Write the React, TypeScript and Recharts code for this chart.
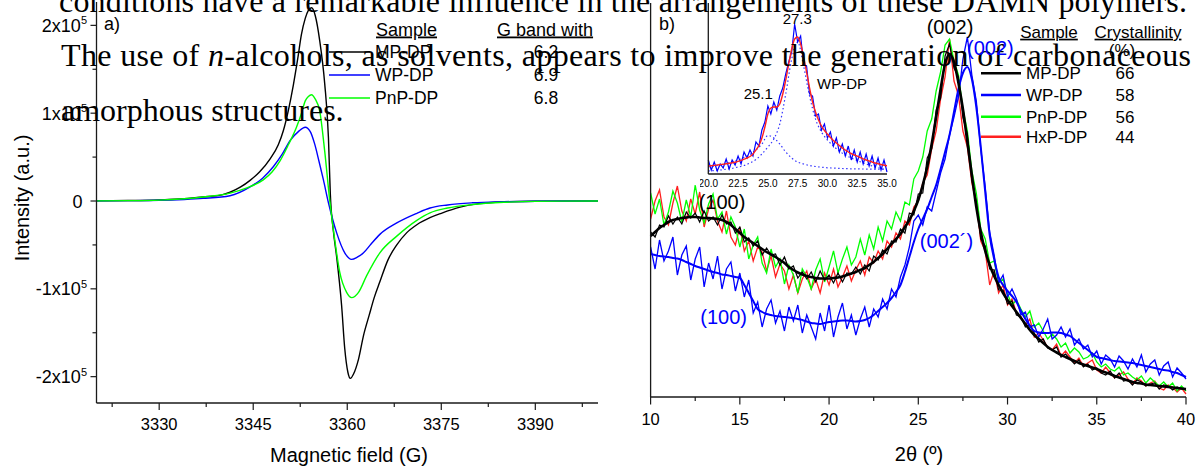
import { Line, LineChart, XAxis, YAxis } from 'recharts';

const SANS = "'Liberation Sans', Arial, Helvetica, sans-serif";
const SERIF = "'Liberation Serif', 'Times New Roman', serif";
const AXIS = '#1a1a1a';

// ---- a) EPR spectra (intensity in units of 1x10^5) ----
const mpField = [
  3320, 3325, 3330, 3334, 3337, 3340, 3341.3, 3343, 3344.5, 3346,
  3347.7, 3349, 3349.8, 3350.6, 3351.4, 3352.1, 3352.7, 3353.3, 3353.8, 3354.3,
  3354.9, 3355.6, 3356.4, 3357.0, 3357.3, 3357.8, 3358.3, 3359.1, 3359.6, 3360.1,
  3360.5, 3361, 3361.8, 3362.6, 3363.5, 3364.3, 3365.2, 3366.5, 3367.9, 3369.5,
  3371.1, 3373.2, 3375, 3378, 3381, 3385, 3390, 3400,
];
const mpEpr = [
  0.002, 0.005, 0.012, 0.025, 0.045, 0.07, 0.1, 0.16, 0.235, 0.33,
  0.48, 0.64, 0.8, 1.03, 1.32, 1.62, 1.9, 2.08, 2.17, 2.2,
  2.11, 1.83, 1.34, 0.72, 0.08, -0.35, -0.63, -1.19, -1.68, -1.95,
  -2.02, -1.97, -1.8, -1.53, -1.3, -1.1, -0.92, -0.67, -0.5, -0.36,
  -0.27, -0.19, -0.14, -0.07, -0.03, -0.01, -0.003, 0,
];
const pnpField = [
  3320, 3325, 3330, 3334, 3337, 3341.3, 3344, 3346.6, 3348, 3349.3,
  3350.6, 3351.9, 3352.7, 3353.3, 3353.8, 3354.3, 3354.9, 3355.6, 3356.4, 3357.2,
  3358.0, 3358.8, 3359.9, 3360.7, 3361.8, 3363.1, 3365.2, 3367.9, 3371.1, 3373.2,
  3376, 3380, 3385, 3390, 3400,
];
const pnpEpr = [
  0.002, 0.004, 0.01, 0.025, 0.045, 0.09, 0.15, 0.24, 0.33, 0.46,
  0.64, 0.84, 1.0, 1.14, 1.19, 1.21, 1.16, 1.03, 0.57, 0.01,
  -0.44, -0.81, -1.04, -1.1, -1.04, -0.85, -0.59, -0.4, -0.22, -0.135,
  -0.08, -0.04, -0.015, -0.004, 0,
];
const wpField = [
  3320, 3325, 3330, 3334, 3337, 3341.3, 3344.5, 3346.5, 3348.2, 3349.6,
  3350.9, 3352.2, 3353.3, 3354.1, 3354.8, 3355.5, 3356.2, 3357.0, 3358.3, 3359.6,
  3360.7, 3361.6, 3362.6, 3363.8, 3365.2, 3367.9, 3371.1, 3373.2, 3376, 3380,
  3385, 3390, 3400,
];
const wpEpr = [
  0.002, 0.004, 0.008, 0.018, 0.03, 0.06, 0.16, 0.26, 0.39, 0.53,
  0.69, 0.79, 0.84, 0.79, 0.65, 0.45, 0.24, -0.02, -0.36, -0.59,
  -0.665, -0.64, -0.59, -0.49, -0.38, -0.25, -0.14, -0.08, -0.045, -0.02,
  -0.008, -0.002, 0,
];
const eprYTicks = [-2, -1.5, -1, -0.5, 0, 0.5, 1, 1.5, 2];
const eprXTicks = [3322.5, 3330, 3337.5, 3345, 3352.5, 3360, 3367.5, 3375, 3382.5, 3390, 3397.5];
const eprSamples = ['MP-DP', 'WP-DP', 'PnP-DP'];
const eprBandWidth = ['6.2', '6.9', '6.8'];
const eprColors = ['#000000', '#0000ff', '#00ff00'];

// ---- b) XRD patterns (arbitrary intensity) ----
const xrdAngle = [
  10, 10.25, 10.5, 10.75, 11, 11.25, 11.5, 11.75, 12, 12.25,
  12.5, 12.75, 13, 13.25, 13.5, 13.75, 14, 14.25, 14.5, 14.75,
  15, 15.25, 15.5, 15.75, 16, 16.25, 16.5, 16.75, 17, 17.25,
  17.5, 17.75, 18, 18.25, 18.5, 18.75, 19, 19.25, 19.5, 19.75,
  20, 20.25, 20.5, 20.75, 21, 21.25, 21.5, 21.75, 22, 22.25,
  22.5, 22.75, 23, 23.25, 23.5, 23.75, 24, 24.25, 24.5, 24.75,
  25, 25.25, 25.5, 25.75, 26, 26.25, 26.5, 26.75, 27, 27.25,
  27.5, 27.75, 28, 28.25, 28.5, 28.75, 29, 29.25, 29.5, 29.75,
  30, 30.25, 30.5, 30.75, 31, 31.25, 31.5, 31.75, 32, 32.25,
  32.5, 32.75, 33, 33.25, 33.5, 33.75, 34, 34.25, 34.5, 34.75,
  35, 35.25, 35.5, 35.75, 36, 36.25, 36.5, 36.75, 37, 37.25,
  37.5, 37.75, 38, 38.25, 38.5, 38.75, 39, 39.25, 39.5, 39.75,
  40,
];
const xrdMpFit = [
  161, 165, 169, 172, 175, 177, 178, 179, 179.5, 180,
  180, 179.5, 179, 179, 178.5, 178, 177, 175, 172, 168,
  164, 160, 157, 154, 151, 148, 145, 142.5, 140, 137,
  134, 130, 127, 124.5, 122.5, 121, 120, 119, 118.5, 118.5,
  118.5, 119, 119.5, 120.5, 122, 123.5, 125, 127, 129, 132,
  135, 139, 143, 148, 153, 158, 163, 170, 177, 186,
  197, 212, 230, 253, 280, 308, 333, 343, 335, 314,
  288, 255, 222, 190, 165, 146, 132, 121, 112, 104,
  97, 91, 85, 79, 73, 67, 62, 58, 54, 50,
  47, 44.5, 42, 40, 38, 36, 34, 32.5, 31, 29.5,
  28, 26, 24.5, 23, 21, 19.5, 18, 16.5, 15, 14,
  13.5, 12.5, 12, 11.5, 11, 10.5, 10, 9.5, 9, 8.5,
  8,
];
const xrdMp = [
  165, 160, 172, 170, 181, 173, 180, 173, 185, 179,
  184, 175, 186, 176, 180, 172, 182, 173, 175, 164,
  170, 155, 159, 151, 156, 142, 149, 142, 143, 132,
  140, 128, 131, 119, 125, 118, 125, 115, 126, 117,
  122, 114, 124, 115, 124, 123, 130, 123, 132, 126,
  141, 137, 147, 143, 156, 155, 168, 164, 184, 182,
  203, 204, 239, 248, 287, 299, 341, 353, 329, 320,
  279, 263, 217, 196, 158, 151, 128, 127, 107, 107,
  93, 96, 82, 80, 70, 72, 64, 55, 58, 49,
  47, 50, 40, 43, 38, 33, 37, 30, 33, 27,
  29, 24, 22, 26, 19, 24, 16, 17, 12, 17,
  15, 11, 13, 14, 8, 12, 11, 7, 10, 8,
  7,
];
const xrdWpFit = [
  143, 142, 141, 140.5, 140, 139, 138.5, 137, 135, 133,
  131, 129.5, 128, 126.5, 125, 124, 122.5, 122, 121, 120,
  119, 112, 104, 96, 88, 85, 83, 82, 81, 80.5,
  80, 79.5, 79, 78, 77, 75.5, 74, 73.5, 73, 74,
  75, 75.5, 76, 76.5, 76.5, 76, 75.5, 76, 77, 79,
  82, 86, 90, 94, 99, 105, 112, 125, 140, 155,
  168, 178, 188, 200, 212, 228, 245, 262, 285, 308,
  324, 330, 318, 290, 250, 205, 162, 138, 120, 112,
  106, 101, 95, 86, 78, 71, 66, 64.5, 64, 64,
  64.5, 64.5, 64, 62.5, 61, 57.5, 54, 50.5, 47, 43.5,
  40, 39, 38, 37, 36, 35.5, 35, 34.5, 34, 33,
  32, 31, 30, 29, 28, 27, 26.5, 25, 24, 22,
  20,
];
const xrdWp = [
  150, 128, 157, 136, 146, 160, 122, 142, 151, 117,
  138, 150, 110, 134, 118, 141, 108, 128, 135, 106,
  124, 100, 117, 84, 95, 70, 88, 97, 74, 86,
  66, 90, 76, 92, 64, 82, 70, 58, 84, 66,
  92, 60, 80, 94, 68, 82, 62, 78, 90, 70,
  88, 80, 98, 88, 108, 100, 120, 132, 150, 176,
  182, 172, 190, 186, 205, 224, 238, 262, 280, 300,
  338, 360, 322, 296, 248, 210, 165, 142, 114, 122,
  100, 108, 98, 82, 85, 70, 72, 60, 68, 78,
  58, 62, 70, 60, 68, 52, 58, 48, 52, 40,
  46, 33, 42, 38, 30, 41, 36, 28, 38, 30,
  42, 25, 33, 37, 22, 31, 35, 20, 29, 24,
  18,
];
const xrdPnp = [
  204, 183, 198, 172, 185, 206, 194, 175, 197, 180,
  212, 187, 174, 193, 203, 178, 185, 163, 180, 170,
  150, 168, 138, 152, 160, 134, 124, 148, 130, 138,
  113, 132, 122, 104, 128, 120, 108, 127, 138, 115,
  130, 146, 124, 138, 150, 132, 140, 158, 142, 162,
  148, 170, 156, 176, 168, 185, 176, 195, 192, 218,
  226, 240, 266, 278, 306, 325, 352, 358, 336, 322,
  288, 266, 226, 204, 168, 158, 134, 136, 114, 118,
  103, 92, 97, 88, 80, 86, 70, 74, 66, 58,
  63, 58, 50, 54, 44, 49, 45, 38, 40, 44,
  35, 30, 33, 28, 26, 30, 22, 24, 20, 17,
  21, 14, 19, 15, 11, 15, 10, 14, 6, 11,
  6,
];
const xrdHxp = [
  178, 196, 207, 180, 172, 194, 211, 186, 176, 198,
  183, 205, 170, 188, 197, 176, 165, 186, 160, 152,
  170, 146, 156, 136, 150, 145, 126, 141, 120, 133,
  126, 108, 122, 104, 118, 126, 108, 118, 104, 124,
  112, 128, 110, 120, 131, 116, 127, 136, 122, 140,
  134, 146, 138, 156, 150, 164, 158, 176, 172, 190,
  196, 214, 222, 248, 266, 298, 320, 358, 316, 302,
  266, 250, 214, 194, 156, 146, 112, 126, 104, 112,
  92, 98, 84, 80, 72, 78, 60, 64, 57, 50,
  47, 53, 41, 46, 40, 34, 39, 31, 34, 37,
  27, 24, 30, 24, 19, 22, 25, 18, 13, 19,
  16, 11, 14, 16, 9, 7, 12, 10, 5, 9,
  3,
];
const xrdTicks = [10, 12.5, 15, 17.5, 20, 22.5, 25, 27.5, 30, 32.5, 35, 37.5, 40];
const xrdSamples = ['MP-DP', 'WP-DP', 'PnP-DP', 'HxP-DP'];
const xrdCrystallinity = ['66', '58', '56', '44'];
const xrdColors = ['#000000', '#0000ff', '#00ff00', '#ff2020'];

// inset: WP-DP (002) band deconvolution
const insetAngle = [
  20, 20.25, 20.5, 20.75, 21, 21.25, 21.5, 21.75, 22, 22.25,
  22.5, 22.75, 23, 23.25, 23.5, 23.75, 24, 24.25, 24.5, 24.75,
  25, 25.25, 25.5, 25.75, 26, 26.25, 26.5, 26.75, 27, 27.25,
  27.5, 27.75, 28, 28.25, 28.5, 28.75, 29, 29.25, 29.5, 29.75,
  30, 30.25, 30.5, 30.75, 31, 31.25, 31.5, 31.75, 32, 32.25,
  32.5, 32.75, 33, 33.25, 33.5, 33.75, 34, 34.25, 34.5, 34.75,
  35,
];
const insetFit = [
  8, 8.3, 8.6, 9, 9.4, 9.8, 10.2, 10.7, 11.2, 11.8,
  12.6, 13.6, 14.8, 16, 17.5, 20, 24, 28.5, 36, 47,
  60, 66, 67, 67, 70, 80, 94, 110, 125, 135,
  137, 130, 117, 102, 86, 72, 62, 54, 48, 43.5,
  40, 36.5, 33.5, 31, 28.5, 26, 24, 22, 20.5, 19,
  17.8, 16.5, 15.2, 14, 13, 12, 11, 10.2, 9.5, 8.8,
  8.3,
];
const insetWp = [
  14, 4, 12, 3, 10, 6, 15, 5, 14, 9,
  18, 10, 22, 16, 24, 18, 32, 28, 44, 52,
  68, 60, 72, 64, 78, 86, 100, 112, 122, 150,
  132, 138, 110, 108, 80, 78, 58, 60, 44, 50,
  36, 42, 28, 36, 22, 30, 18, 28, 14, 24,
  12, 22, 10, 20, 8, 18, 6, 16, 4, 14,
  2,
];
const insetPeakAngle = [
  20, 20.5, 21, 21.5, 22, 22.5, 23, 23.5, 24, 24.5,
  25, 25.5, 26, 26.5, 27, 27.5, 28, 28.5, 29, 29.5,
  30, 30.5, 31, 31.5, 32, 32.5, 33, 33.5, 34, 34.5,
  35,
];
const insetPeak1 = [
  7, 8, 9, 10.5, 12, 14, 16.5, 19.5, 24, 30,
  38.5, 36, 30, 22, 16, 12, 10, 8.5, 7.5, 6.8,
  6.2, 5.9, 5.6, 5.4, 5.2, 5.1, 5, 4.9, 4.8, 4.75,
  4.7,
];
const insetPeak2 = [
  3, 3.5, 4, 4.8, 5.7, 7, 8.5, 11, 14.5, 20,
  27, 35, 50, 80, 115, 132, 108, 78, 55, 42,
  34, 28, 23, 19, 16, 13.5, 11, 9, 7, 5.5,
  4,
];
const insetTicks = [20, 22.5, 25, 27.5, 30, 32.5, 35];

const toPoints = (xs: number[], ys: number[]) => xs.map((x, i) => ({ x, y: ys[i] }));

function EprYTick(props: any) {
  const { x, y, payload } = props;
  const v = payload.value as number;
  const major = Number.isInteger(v);
  return (
    <g>
      <line x1={x - (major ? 6 : 4)} x2={x} y1={y} y2={y} stroke={AXIS} strokeWidth={1.2} />
      {major && v === 0 && (
        <text x={x - 14} y={y + 6.5} textAnchor="end" fontSize={18} fontFamily={SANS} fill="#000">
          0
        </text>
      )}
      {major && v !== 0 && (
        <text x={x - 9.5} y={y + 6.5} textAnchor="end" fontSize={18} fontFamily={SANS} fill="#000">
          {`${v}x10`}
          <tspan fontSize={11} dy={-7.5}>
            5
          </tspan>
        </text>
      )}
    </g>
  );
}

function makeXTick(isMajor: (v: number) => boolean, size: number, long: number, short: number, gap: number, fmt?: (v: number) => string) {
  return function XTick(props: any) {
    const { x, y, payload } = props;
    const v = payload.value as number;
    const major = isMajor(v);
    return (
      <g>
        {long > 0 && <line x1={x} x2={x} y1={y} y2={y + (major ? long : short)} stroke={AXIS} strokeWidth={1.2} />}
        {major && (
          <text x={x} y={y + gap} textAnchor="middle" fontSize={size} fontFamily={SANS} fill="#000">
            {fmt ? fmt(v) : v}
          </text>
        )}
      </g>
    );
  };
}

const FieldTick = makeXTick((v) => (v - 3330) % 15 === 0, 16.5, 7, 4, 26.5);
const AngleTick = makeXTick((v) => v % 5 === 0, 16.5, 7.5, 4, 28);
const InsetTick = makeXTick(() => true, 10, 0, 0, 12.5, (v) => v.toFixed(1));

const axisLine = { stroke: AXIS, strokeWidth: 1.3 };

export default function App() {
  const mp = toPoints(mpField, mpEpr);
  const wp = toPoints(wpField, wpEpr);
  const pnp = toPoints(pnpField, pnpEpr);
  const eprSeries = [mp, wp, pnp];

  const xMp = toPoints(xrdAngle, xrdMp);
  const xMpFit = toPoints(xrdAngle, xrdMpFit);
  const xWp = toPoints(xrdAngle, xrdWp);
  const xWpFit = toPoints(xrdAngle, xrdWpFit);
  const xPnp = toPoints(xrdAngle, xrdPnp);
  const xHxp = toPoints(xrdAngle, xrdHxp);

  const iWp = toPoints(insetAngle, insetWp);
  const iFit = toPoints(insetAngle, insetFit);
  const iP1 = toPoints(insetPeakAngle, insetPeak1);
  const iP2 = toPoints(insetPeakAngle, insetPeak2);

  const eprRows = [52, 75, 98];
  const xrdRows = [73.3, 95, 116.7, 136.7];

  return (
    <div style={{ position: 'absolute', left: 0, top: 0, width: 1196, height: 466, background: '#fff', overflow: 'hidden' }}>
      {/* a) EPR */}
      <div style={{ position: 'absolute', left: 0, top: 0 }}>
        <LineChart width={620} height={466} margin={{ top: 2, right: 22, bottom: 0, left: 0 }}>
          <XAxis
            dataKey="x"
            type="number"
            domain={[3320, 3400]}
            ticks={eprXTicks}
            interval={0}
            height={63}
            tickSize={0}
            tickMargin={0}
            tickLine={false}
            axisLine={axisLine}
            tick={<FieldTick />}
          />
          <XAxis xAxisId="top" orientation="top" type="number" domain={[3320, 3400]} height={0} tick={false} tickLine={false} axisLine={axisLine} />
          <YAxis
            type="number"
            domain={[-2.3, 2.266]}
            ticks={eprYTicks}
            interval={0}
            width={96.5}
            tickSize={0}
            tickMargin={0}
            tickLine={false}
            axisLine={axisLine}
            tick={<EprYTick />}
          />
          <YAxis yAxisId="right" orientation="right" type="number" domain={[0, 1]} width={0} tick={false} tickLine={false} axisLine={axisLine} />
          {eprSeries.map((d, i) => (
            <Line
              key={eprSamples[i]}
              data={d}
              dataKey="y"
              type="monotone"
              stroke={eprColors[i]}
              strokeWidth={1.4}
              dot={false}
              activeDot={false}
              isAnimationActive={false}
            />
          ))}
        </LineChart>
      </div>

      {/* b) XRD */}
      <div style={{ position: 'absolute', left: 600, top: 0 }}>
        <LineChart width={596} height={466} margin={{ top: 3, right: 10, bottom: 0, left: 0 }}>
          <XAxis
            dataKey="x"
            type="number"
            domain={[10, 40]}
            ticks={xrdTicks}
            interval={0}
            height={69}
            tickSize={0}
            tickMargin={0}
            tickLine={false}
            axisLine={axisLine}
            tick={<AngleTick />}
          />
          <XAxis xAxisId="top" orientation="top" type="number" domain={[10, 40]} height={0} tick={false} tickLine={false} axisLine={axisLine} />
          <YAxis type="number" domain={[0, 394]} width={50.6} tick={false} tickLine={false} axisLine={axisLine} />
          <YAxis yAxisId="right" orientation="right" type="number" domain={[0, 1]} width={0} tick={false} tickLine={false} axisLine={{ stroke: '#444', strokeWidth: 1.6 }} />
          <Line data={xHxp} dataKey="y" type="linear" stroke={xrdColors[3]} strokeWidth={1.3} dot={false} activeDot={false} isAnimationActive={false} />
          <Line data={xPnp} dataKey="y" type="linear" stroke={xrdColors[2]} strokeWidth={1.3} dot={false} activeDot={false} isAnimationActive={false} />
          <Line data={xWp} dataKey="y" type="linear" stroke={xrdColors[1]} strokeWidth={1.3} dot={false} activeDot={false} isAnimationActive={false} />
          <Line data={xMp} dataKey="y" type="linear" stroke={xrdColors[0]} strokeWidth={1.2} dot={false} activeDot={false} isAnimationActive={false} />
          <Line data={xWpFit} dataKey="y" type="monotone" stroke={xrdColors[1]} strokeWidth={2} dot={false} activeDot={false} isAnimationActive={false} />
          <Line data={xMpFit} dataKey="y" type="monotone" stroke={xrdColors[0]} strokeWidth={2.6} dot={false} activeDot={false} isAnimationActive={false} />
        </LineChart>
      </div>

      {/* inset */}
      <div style={{ position: 'absolute', left: 700, top: 0 }}>
        <LineChart width={200} height={200} margin={{ top: 3, right: 13, bottom: 0, left: 0 }}>
          <XAxis
            dataKey="x"
            type="number"
            domain={[20, 35]}
            ticks={insetTicks}
            interval={0}
            height={26}
            tickSize={0}
            tickMargin={0}
            tickLine={false}
            axisLine={axisLine}
            tick={<InsetTick />}
          />
          <XAxis xAxisId="top" orientation="top" type="number" domain={[20, 35]} height={0} tick={false} tickLine={false} axisLine={axisLine} />
          <YAxis type="number" domain={[0, 171]} width={8.3} tick={false} tickLine={false} axisLine={axisLine} />
          <YAxis yAxisId="right" orientation="right" type="number" domain={[0, 1]} width={0} tick={false} tickLine={false} axisLine={{ stroke: '#555', strokeWidth: 1.3 }} />
          <Line data={iP1} dataKey="y" type="monotone" stroke="#3333ff" strokeWidth={1.2} strokeDasharray="1.5 2.5" dot={false} activeDot={false} isAnimationActive={false} />
          <Line data={iP2} dataKey="y" type="monotone" stroke="#3333ff" strokeWidth={1.2} strokeDasharray="1.5 2.5" dot={false} activeDot={false} isAnimationActive={false} />
          <Line data={iWp} dataKey="y" type="linear" stroke="#0000ff" strokeWidth={1.2} dot={false} activeDot={false} isAnimationActive={false} />
          <Line data={iFit} dataKey="y" type="monotone" stroke="#ff2020" strokeWidth={1.4} dot={false} activeDot={false} isAnimationActive={false} />
        </LineChart>
      </div>

      {/* text overlay */}
      <svg width={1196} height={466} style={{ position: 'absolute', left: 0, top: 0, pointerEvents: 'none' }}>
        <g fontFamily={SERIF} fontSize={32} fill="#000">
          <text x={59} y={12} textLength={1128} lengthAdjust="spacing">
            conditions have a remarkable influence in the arrangements of these DAMN polymers.
          </text>
          <text x={61} y={65.5} textLength={1130} lengthAdjust="spacing">
            The use of <tspan fontStyle="italic">n</tspan>-alcohols, as solvents, appears to improve the generation of carbonaceous
          </text>
          <text x={61} y={120.5}>amorphous structures.</text>
        </g>

        <g fontFamily={SANS} fill="#000">
          <text x={104} y={30} fontSize={18}>a)</text>
          <text x={659} y={30} fontSize={18}>b)</text>

          <text x={406.5} y={35.5} fontSize={18} textAnchor="middle" textDecoration="underline">Sample</text>
          <text x={497} y={35.5} fontSize={18} textDecoration="underline">G band with</text>
          {eprSamples.map((s, i) => (
            <g key={s}>
              <line x1={329} x2={370} y1={eprRows[i]} y2={eprRows[i]} stroke={eprColors[i]} strokeWidth={1.5} />
              <text x={375} y={eprRows[i] + 6.3} fontSize={17.5}>{s}</text>
              <text x={546} y={eprRows[i] + 6.3} fontSize={17.5} textAnchor="middle">{eprBandWidth[i]}</text>
            </g>
          ))}

          <text x={1049} y={37.7} fontSize={17} textAnchor="middle" textDecoration="underline">Sample</text>
          <text x={1138} y={37.7} fontSize={17} textAnchor="middle" textDecoration="underline">Crystallinity</text>
          <text x={1122} y={56} fontSize={17} textAnchor="middle">(%)</text>
          {xrdSamples.map((s, i) => (
            <g key={s}>
              <line x1={981} x2={1021} y1={xrdRows[i]} y2={xrdRows[i]} stroke={xrdColors[i]} strokeWidth={2.5} />
              <text x={1026} y={xrdRows[i] + 6} fontSize={17}>{s}</text>
              <text x={1125} y={xrdRows[i] + 6} fontSize={17} textAnchor="middle">{xrdCrystallinity[i]}</text>
            </g>
          ))}

          <text x={950} y={34} fontSize={20} textAnchor="middle">(002)</text>
          <text x={967} y={55} fontSize={20} fill="#0000ff">(002)</text>
          <text x={722} y={209} fontSize={20} textAnchor="middle">(100)</text>
          <text x={723.6} y={323.5} fontSize={20} textAnchor="middle" fill="#0000ff">(100)</text>
          <text x={946.5} y={248} fontSize={20} textAnchor="middle" fill="#0000ff">(002´)</text>

          <text x={797.3} y={23.5} fontSize={15} textAnchor="middle">27.3</text>
          <text x={758.3} y={98.5} fontSize={15} textAnchor="middle">25.1</text>
          <text x={842} y={88.5} fontSize={15} textAnchor="middle">WP-DP</text>

          <text x={0} y={0} fontSize={20} textAnchor="middle" transform="translate(29 198) rotate(-90)">Intensity (a.u.)</text>
          <text x={349} y={462} fontSize={20} textAnchor="middle">Magnetic field (G)</text>
          <text x={919} y={461} fontSize={20} textAnchor="middle">2θ (º)</text>
        </g>
      </svg>
    </div>
  );
}
